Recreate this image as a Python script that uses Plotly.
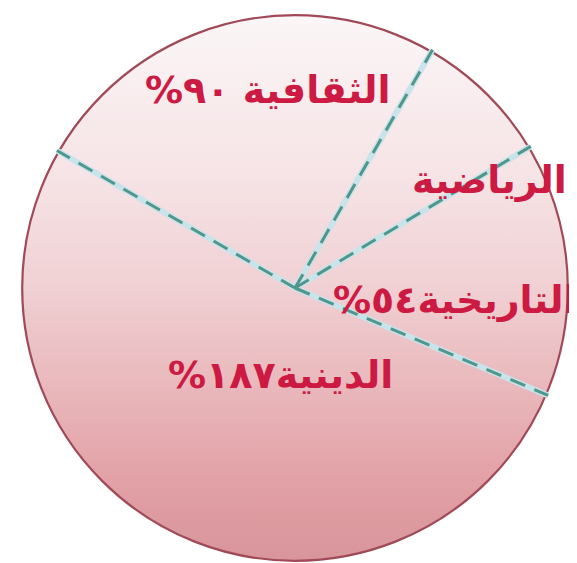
import base64
import numpy as np
import plotly.graph_objects as go

# degrees of the circle given to each kind of reading
categories = ['الثقافية', 'الرياضية', 'التاريخية', 'الدينية']
degrees = [90, 29, 54, 187]
label_text = ['الثقافية ٩٠%', 'الرياضية', 'التاريخية٥٤%', 'الدينية١٨٧%']

W, H = 577, 563
OFF = 8  # page body margin pushes the figure 8px right/down
start_angle = 150  # where the first slice begins (math degrees, going clockwise)

# pie area in paper coords (target pixels minus body offset)
dom_x = [(20 - OFF) / W, (570 - OFF) / W]
dom_y = [1 - (563 - OFF) / H, 1 - (13 - OFF) / H]

# gradient disc drawn under the (transparent) pie
svg = ('<svg xmlns="http://www.w3.org/2000/svg" viewBox="0 0 100 100" preserveAspectRatio="none">'
       '<defs><linearGradient id="g" x1="0" y1="0" x2="0" y2="1">'
       '<stop offset="0" stop-color="#fbf6f7"/>'
       '<stop offset="0.3" stop-color="#f6e3e5"/>'
       '<stop offset="0.5" stop-color="#f0d0d3"/>'
       '<stop offset="0.85" stop-color="#e2a1a6"/>'
       '<stop offset="1" stop-color="#d8959b"/>'
       '</linearGradient></defs>'
       '<circle cx="50" cy="50" r="49.6" fill="url(#g)" stroke="#a04a58" stroke-width="0.4"/>'
       '</svg>')
src = 'data:image/svg+xml;base64,' + base64.b64encode(svg.encode()).decode()

fig = go.Figure()
fig.add_trace(go.Pie(labels=categories, values=degrees, sort=False,
                     direction='clockwise', rotation=90 - start_angle,
                     domain=dict(x=dom_x, y=dom_y),
                     marker=dict(colors=['rgba(0,0,0,0)'] * 4, line=dict(width=0)),
                     textinfo='none', showlegend=False))

# dashed slice borders, angles taken from the data
edges = start_angle - np.concatenate([[0], np.cumsum(degrees)[:-1]])
lx, ly = [], []
for a in np.radians(edges):
    lx += [0, np.cos(a), None]
    ly += [0, np.sin(a), None]
fig.add_trace(go.Scatter(x=lx, y=ly, mode='lines', hoverinfo='skip', showlegend=False,
                         line=dict(color='#c9e3ea', width=6)))
fig.add_trace(go.Scatter(x=lx, y=ly, mode='lines', hoverinfo='skip', showlegend=False,
                         line=dict(color='#4f968c', width=3, dash='16px,10px')))

# label centres in target pixels
label_pos = [(268, 90), (490, 180), (455, 300), (280, 375)]
for txt, (px, py) in zip(label_text, label_pos):
    fig.add_annotation(x=(px - OFF) / W, y=1 - (py - OFF) / H, xref='paper', yref='paper',
                       xanchor='center', yanchor='middle',
                       text='<b>\u200f' + txt + '\u200f</b>', showarrow=False,
                       font=dict(family='DejaVu Sans', size=38, color='#cc1a42'))

fig.add_layout_image(dict(source=src, xref='paper', yref='paper',
                          x=dom_x[0], y=dom_y[1], sizex=dom_x[1] - dom_x[0],
                          sizey=dom_y[1] - dom_y[0], xanchor='left', yanchor='top',
                          sizing='stretch', layer='below'))

fig.update_xaxes(domain=dom_x, range=[-1, 1], visible=False, fixedrange=True)
fig.update_yaxes(domain=dom_y, range=[-1, 1], visible=False, fixedrange=True)
fig.update_layout(width=W, height=H, margin=dict(l=0, r=0, t=0, b=0),
                  paper_bgcolor='white', plot_bgcolor='rgba(0,0,0,0)',
                  font=dict(family='DejaVu Sans'))

fig.write_html("out.html")
